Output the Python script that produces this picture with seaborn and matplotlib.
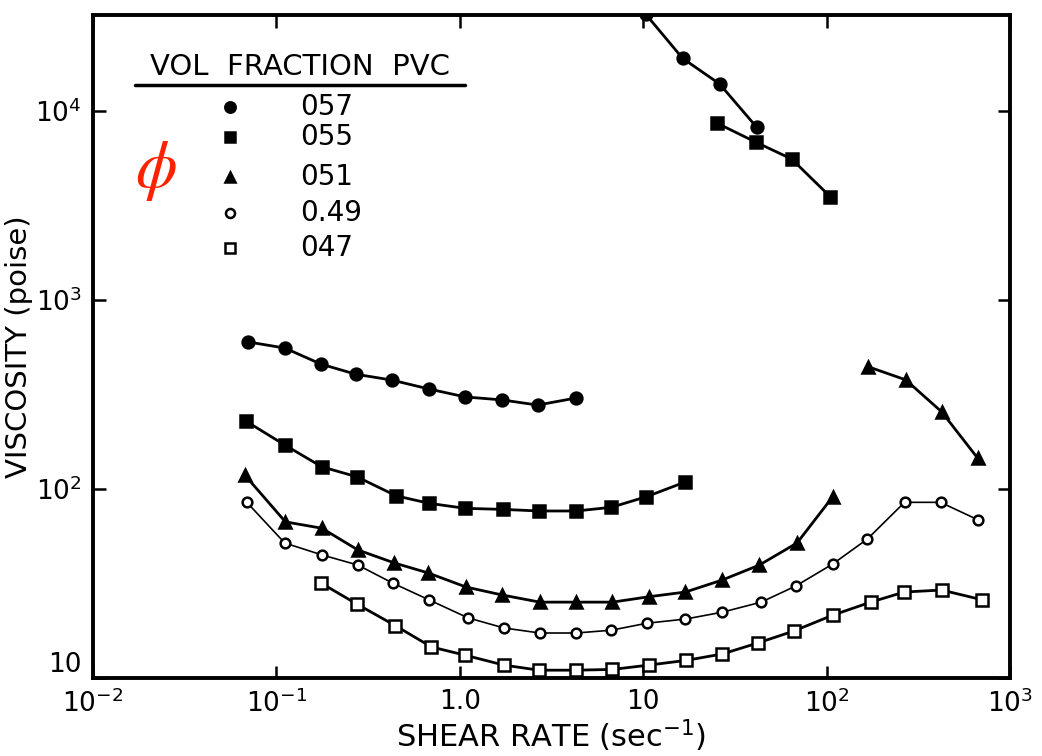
import matplotlib
matplotlib.use("Agg")
import matplotlib.pyplot as plt
import numpy as np
import seaborn as sns

# phi = 0.57 (filled circles), two branches
rate_57a = [0.070, 0.111, 0.175, 0.27, 0.426, 0.68, 1.07, 1.70, 2.66, 4.3]
visc_57a = [600, 557, 458, 405, 377, 338, 307, 296, 278, 303]
rate_57b = [10.3, 16.4, 26.1, 41.5]
visc_57b = [32600, 19000, 13900, 8220]

# phi = 0.55 (filled squares)
rate_55a = [0.068, 0.111, 0.177, 0.275, 0.45, 0.68, 1.07, 1.72, 2.7, 4.3, 6.7, 10.4, 17.0]
visc_55a = [229, 171, 131, 116, 92, 84, 79, 78, 76.5, 76.5, 80, 91, 109]
rate_55b = [25.1, 41.0, 64.5, 105]
visc_55b = [8650, 6850, 5570, 3510]

# phi = 0.51 (filled triangles)
rate_51a = [0.067, 0.112, 0.177, 0.278, 0.44, 0.67, 1.08, 1.70, 2.73, 4.3, 6.8, 10.7, 17.0, 27.0, 43.0, 69.0, 108]
visc_51a = [119, 67, 62, 47.6, 40.6, 36, 30.3, 27.5, 25.2, 25.2, 25.2, 26.9, 28.5, 33, 39.6, 51.8, 91]
rate_51b = [169, 270, 424, 665]
visc_51b = [443, 378, 256, 146]

# phi = 0.49 (open circles)
rate_49 = [0.069, 0.111, 0.177, 0.278, 0.43, 0.68, 1.11, 1.74, 2.73, 4.3, 6.7, 10.5, 17.0, 27.0, 44.0, 68.0, 108, 167, 266, 418, 673]
visc_49 = [85, 51.8, 44.8, 39.6, 31.8, 25.9, 20.8, 18.4, 17.3, 17.3, 17.9, 19.5, 20.5, 22.3, 25.2, 30.7, 40.1, 54.4, 85, 85, 68.5]

# phi = 0.47 (open squares)
rate_47 = [0.175, 0.275, 0.446, 0.70, 1.07, 1.74, 2.7, 4.3, 6.8, 10.7, 17.2, 27.0, 42.0, 66.0, 108, 174, 265, 424, 708]
visc_47 = [31.8, 24.6, 18.9, 14.6, 13.2, 11.7, 11.0, 11.0, 11.1, 11.7, 12.4, 13.4, 15.3, 17.7, 21.5, 25.2, 28.5, 29.2, 25.9]

legend_labels = ["057", "055", "051", "0.49", "047"]

sns.set_theme(style="ticks")
plt.rcParams["font.family"] = ["DejaVu Sans"]
plt.rcParams["mathtext.fontset"] = "dejavusans"
plt.rcParams["text.color"] = "black"
plt.rcParams["axes.labelcolor"] = "black"

fig = plt.figure(figsize=(10.42, 7.56), dpi=100)
ax = fig.add_axes([93 / 1042, 1 - 678 / 756, 917 / 1042, 663 / 756])

segments = [
    (rate_57a, visc_57a, "o", "black", 8.5, 2.0),
    (rate_57b, visc_57b, "o", "black", 8.5, 2.0),
    (rate_55a, visc_55a, "s", "black", 8, 2.0),
    (rate_55b, visc_55b, "s", "black", 8, 2.0),
    (rate_51a, visc_51a, "^", "black", 8.5, 2.0),
    (rate_51b, visc_51b, "^", "black", 8.5, 2.0),
    (rate_49, visc_49, "o", "white", 7, 1.2),
    (rate_47, visc_47, "s", "white", 8, 2.0),
]
for xs, ys, mk, face, ms, lw in segments:
    sns.lineplot(x=xs, y=ys, ax=ax, sort=False, color="black", lw=lw,
                 marker=mk, markersize=ms, markerfacecolor=face,
                 markeredgecolor="black", markeredgewidth=1.8)

ax.set_xscale("log")
ax.set_yscale("log")
ax.set_xlim(0.01, 1000)
ax.set_ylim(10, 32200)

ax.set_xticks([0.01, 0.1, 1, 10, 100, 1000])
ax.set_xticklabels([r"10$^{-2}$", r"10$^{-1}$", "1.0", "10", r"10$^{2}$", r"10$^{3}$"])
ax.set_yticks([10, 100, 1000, 10000])
ax.set_yticklabels(["10", r"10$^{2}$", r"10$^{3}$", r"10$^{4}$"])
ax.minorticks_off()
ax.tick_params(axis="both", which="major", direction="in", length=9, width=1.8,
               top=True, right=True, labelsize=19, pad=8, colors="black")
# keep the bottom "10" clear of the 10^-2 label
ax.get_yticklabels()[0].set_verticalalignment("bottom")
for side in ax.spines.values():
    side.set_linewidth(2.8)
    side.set_color("black")

ax.set_xlabel(r"SHEAR RATE (sec$^{-1}$)", fontsize=22, labelpad=0)
ax.set_ylabel("VISCOSITY (poise)", fontsize=21, labelpad=2)

# hand-drawn key in the upper left
tr = ax.transAxes
ax.text(0.226, 0.921, "VOL  FRACTION  PVC", transform=tr, fontsize=21,
        ha="center", va="center")
ax.plot([0.046, 0.406], [0.894, 0.894], transform=tr, color="black", lw=2.5)
key_rows = [0.861, 0.816, 0.756, 0.701, 0.649]
key_marks = [("o", "black", 7.5), ("s", "black", 7.5), ("^", "black", 7.5),
             ("o", "white", 6.5), ("s", "white", 7)]
for yy, (mk, face, ms), lab in zip(key_rows, key_marks, legend_labels):
    ax.plot([0.149], [yy], transform=tr, marker=mk, markersize=ms,
            markerfacecolor=face, markeredgecolor="black", markeredgewidth=1.8,
            linestyle="none")
    ax.text(0.226, yy, lab, transform=tr, fontsize=20, ha="left", va="center")

ax.text(0.068, 0.766, r"$\phi$", transform=tr, fontsize=48, color="#ff2200",
        ha="center", va="center", math_fontfamily="stix")

fig.savefig("out.png", dpi=100)
